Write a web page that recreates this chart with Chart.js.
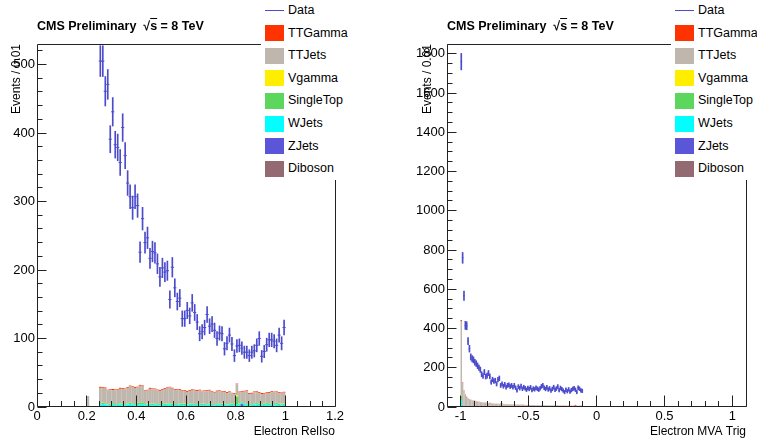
<!DOCTYPE html>
<html>
<head>
<meta charset="utf-8">
<script src="https://cdn.jsdelivr.net/npm/chart.js@4.4.1/dist/chart.umd.min.js"></script>
<style>
  body { margin: 0; background: #fff; }
  #wrap { position: relative; width: 757px; height: 440px; overflow: hidden; font-family: 'Liberation Sans', Arial, Helvetica, sans-serif; color: #000; }
  canvas { position: absolute; top: 0; }
  .title { position: absolute; top: 18px; height: 16px; overflow: hidden; font-weight: bold; font-size: 12.5px; line-height: 16px; white-space: nowrap; }
  .title .ov { text-decoration: overline; }
  .legend { position: absolute; top: 0; height: 180px; background: #fff; }
  .sw { position: absolute; left: 4px; width: 19px; }
  .lt { position: absolute; left: 27px; font-size: 12.5px; line-height: 15px; white-space: nowrap; }
</style>
</head>
<body>
<div id="wrap">
  <canvas id="relIso" width="378" height="440" style="left:0"></canvas>
  <canvas id="mva" width="379" height="440" style="left:378px"></canvas>
  <div class="title" style="left:37px">CMS Preliminary&nbsp;&nbsp;√<span class="ov">s</span> = 8 TeV</div>
  <div class="title" style="left:447px">CMS Preliminary&nbsp;&nbsp;√<span class="ov">s</span> = 8 TeV</div>
  <div class="legend" id="leg1" style="left:261px; width:117px"></div>
  <div class="legend" id="leg2" style="left:671px; width:86px"></div>
</div>
<script>
var binW = 0.01;
var legendNames = ['Data', 'TTGamma', 'TTJets', 'Vgamma', 'SingleTop', 'WJets', 'ZJets', 'Diboson'];

// ---- left pad : Electron RelIso, bins of 0.01 starting at 0.25 ----
var relIsoStart = 0.25;
var relIsoXTicks = [0, 0.2, 0.4, 0.6, 0.8, 1, 1.2];
var relIsoYTicks = [0, 100, 200, 300, 400, 500];
var relIsoData = [505,505,461,471,391,431,383,379,357,408,
                  367,327,307,291,307,294,226,275,240,247,
                  217,227,225,209,190,203,197,199,157,204,
                  174,154,159,129,129,141,133,152,138,124,
                  107,110,116,135,118,121,112,100,108,107,
                  85,93,105,92,75,89,90,86,80,80,
                  75,80,82,90,100,74,81,91,98,98,
                  96,90,105,93,116];
var relIsoTTGamma = [1.5,1.2,1.5,1,1.3,1.5,1.2,1,1.5,1.3, 1.2,1.5,1.3,1,1.5,1.2,1.3,1.5,1,1.2,
                     1.5,1.3,1,1.2,1.5,1.3,1.2,1.5,1,1.3, 1.2,1.5,1.3,1,1.2,1.5,1.3,1,1.2,1.5,
                     1.3,1,1.2,1.5,1.3,1,1.2,1.5,1.3,1, 1.2,1.5,1.3,1,1.2,1,1.3,1.5,1.2,1,
                     1.3,1.5,1.2,1,1.3,1.5,1.2,1,1.3,1.5, 1.2,1,1.3,1.5,1.2];
var relIsoTTJets = [22.5,21.5,21.5,20.5,19.5,19,20,20.5,21,21,
                    21.5,22.5,23.5,24,23.5,22,24,23,19.5,19,
                    21.5,21,20.5,20,19,19,21.5,22.5,23,21.5,
                    20.5,20,19.5,18.5,18.5,18,18,19.5,19.5,19,
                    18.5,18,18,19,18.5,16.5,16.5,18,17.5,17,
                    17,16.5,16,14.5,14.5,16,16,14,17.5,17.5,
                    14.5,15,16,16,15.5,15,14.5,14.5,16,16,
                    17,16.5,15.5,15,16];
var relIsoVgamma = [0.3,0.3,0.3,0.3,0.3,0.3,0.3,0.3,0.3,0.3, 0.3,0.3,0.3,0.3,0.3,0.3,0.3,0.3,0.3,0.3,
                    0.3,0.3,0.3,0.3,0.3,0.3,0.3,0.3,0.3,0.3, 0.3,0.3,0.3,0.3,0.3,0.3,0.3,0.3,0.3,0.3,
                    0.3,0.3,0.3,0.3,0.3,0.3,0.3,0.3,0.3,0.3, 0.3,0.3,0.3,0.3,0.3,2,0.3,0.3,0.3,0.3,
                    0.3,0.3,0.3,0.3,0.3,0.3,0.3,0.3,0.3,0.3, 0.3,0.3,0.3,1,0.3];
var relIsoSingleTop = [1.5,2,1.5,1,1.5,2,1.5,1,1.5,2, 1.5,1,2,1.5,1.5,3,3,2.5,1.5,1,
                       1.5,2,1.5,1,1.5,2,1.5,1,1.5,2, 1.5,1,1.5,2,1.5,1,1.5,2,1.5,1,
                       1.5,2,1.5,1,1.5,2,1.5,1,1.5,2, 1.5,1,1.5,2,1.5,12,1.5,1,1.5,2,
                       1.5,1,1.5,2,1.5,1,1.5,2,1.5,1, 1.5,2,1.5,1,1.5];
var relIsoWJets = [3,2.5,3,2,2.5,3,2,2.5,3,2.5, 2,3,2.5,3,2,2.5,3,2.5,2,3,
                   2.5,2,3,2.5,2,3,2.5,2,3,2.5, 2,2.5,3,2,2.5,2,3,2.5,2,2.5,
                   3,2,2.5,2,3,2.5,2,2.5,3,2, 2.5,2,3,2.5,2,2.5,3,2,2.5,3,
                   2,2.5,2,3,2.5,2,2.5,3,2,2.5, 2,3,2.5,2,2.5];
var relIsoZJets = [0.5,1.5,0.5,0.3,0.5,0.3,0.5,0.3,0.5,0.5, 0.3,0.5,1.5,0.5,0.3,0.5,0.5,1.5,0.3,0.5,
                   0.5,0.3,0.5,0.3,0.5,0.5,0.3,1.2,0.5,0.3, 0.5,0.3,0.5,0.5,0.3,0.5,0.3,0.5,0.5,0.3,
                   0.5,0.3,0.5,0.5,0.3,0.5,0.3,0.5,0.5,0.3, 0.5,0.3,0.5,0.3,0.5,0.5,0.3,4,0.5,0.3,
                   0.5,0.3,1.5,0.5,0.3,0.5,0.3,0.5,0.5,1.5, 0.3,0.5,0.3,0.5,0.5];
var relIsoDiboson = [0.2,0.2,0.2,0.2,0.2,0.2,0.2,0.2,0.2,0.2, 0.2,0.2,0.2,0.2,0.2,0.2,0.2,0.2,0.2,0.2,
                     0.2,0.2,0.2,0.2,0.2,0.2,0.2,0.2,0.2,0.2, 0.2,0.2,0.2,0.2,0.2,0.2,0.2,0.2,0.2,0.2,
                     0.2,0.2,0.2,0.2,0.2,0.2,0.2,0.2,0.2,0.2, 0.2,0.2,0.2,0.2,0.2,0.2,0.2,0.2,0.2,0.2,
                     0.2,0.2,0.2,0.2,0.2,0.2,0.2,0.2,0.2,0.2, 0.2,0.2,0.2,0.2,0.2];
// single TTJets entry sitting alone below the main range
var relIsoStrayX = [0.205];
var relIsoStrayTTJets = [16];

// ---- right pad : Electron MVA Trig, bins of 0.01 starting at -1 ----
var mvaStart = -1;
var mvaXTicks = [-1, -0.5, 0, 0.5, 1];
var mvaYTicks = [0, 200, 400, 600, 800, 1000, 1200, 1400, 1600, 1800];
var mvaData = [1760,760,567,416,414,336,297,255,246,240,
               228,221,210,200,190,167,158,178,155,160,
               173,156,127,140,132,135,118,140,146,110,
               118,106,115,101,110,113,104,110,101,110,
               98,85,104,96,106,93,101,95,88,97,
               92,100,86,94,90,98,93,88,96,105,
               110,98,92,100,89,95,84,92,101,88,
               94,104,86,97,91,84,76,88,80,90,
               78,86,92,95,88,76,98,93,85,82];
var mvaTTGamma = [8,3,2,2,1.5,1.5,1,1,1,1, 1,1,1,1,1,1,1,1,1,1,
                  1,3,1,1,1,1,1,1,1,3, 1,1,1,1,1,1,1,1,1,1,
                  0.5,1,0.5,1,0.5,1,0.5,1,0.5,1, 0.5,1,0.5,1,0.5,1,0.5,1,0.5,1,
                  0.5,1,0.5,1,0.5,1,0.5,1,0.5,1, 0.5,1,0.5,1,0.5,1,0.5,1,0.5,1,
                  0.5,1,0.5,1,5,1,0.5,1,0.5,1];
var mvaTTJets = [378,112,74,56,46,40,35,32,30,28,
                 27,26,24,23,22,21,20,19,18,18,
                 17,16,16,15,15,14,14,14,13,12,
                 13,12,12,11,11,11,11,10,10,10,
                 10,9,10,9,9,9,9,8,9,8,
                 8,8,8,8,8,7,8,7,7,7,
                 7,7,7,7,6,7,6,6,6,6,
                 6,6,6,6,5,6,5,5,5,5,
                 5,5,5,5,5,4,5,4,4,4];
var mvaVgamma = [2,0.5,0.3,0.3,0.2,0.2,0.2,0.2,0.2,0.2, 0.2,0.2,0.2,0.2,0.2,0.2,0.2,0.2,0.2,0.2,
                 0.2,0.2,0.2,0.2,0.2,0.2,0.2,0.2,0.2,0.2, 0.2,0.2,0.2,0.2,0.2,0.2,0.2,0.2,0.2,0.2,
                 0.2,0.2,0.2,0.2,0.2,0.2,0.2,0.2,0.2,0.2, 0.2,0.2,0.2,0.2,0.2,0.2,0.2,0.2,0.2,0.2,
                 0.2,0.2,0.2,0.2,0.2,0.2,0.2,0.2,0.2,0.2, 0.2,0.2,0.2,0.2,0.2,0.2,0.2,0.2,0.2,0.2,
                 0.2,0.2,0.2,0.2,0.2,0.2,0.2,0.2,0.2,0.2];
var mvaSingleTop = [20,4,2.5,2,1.5,1.5,1.2,1,1,1, 1,1,0.8,0.8,0.8,0.8,0.7,0.7,0.7,0.7,
                    0.6,0.6,0.6,0.6,0.6,0.5,0.5,0.5,0.5,0.5, 5,0.5,0.5,0.5,0.4,0.4,0.4,0.4,0.4,0.4,
                    0.4,0.4,0.4,0.4,0.4,0.3,0.3,0.3,0.3,0.3, 0.3,0.3,0.3,0.3,0.3,0.3,0.3,0.3,0.3,0.3,
                    0.3,0.3,0.3,0.3,0.3,0.3,0.3,0.3,0.3,0.3, 0.3,0.3,0.3,0.3,0.3,0.3,0.3,0.3,0.3,0.3,
                    0.3,0.3,0.3,0.3,0.3,0.3,0.3,0.3,0.3,0.3];
var mvaWJets = [30,5,4,3,3,2.5,2.5,2,2,2, 2,2,1.5,1.5,1.5,1.5,1.2,1.2,1.2,1.2,
                1,1,1,1,1,1,1,1,1,1, 0.8,0.8,0.8,0.8,0.8,0.8,0.8,0.8,0.8,0.8,
                0.6,0.6,0.6,0.6,0.6,0.6,0.6,0.6,0.6,0.6, 0.5,0.5,0.5,0.5,0.5,0.5,0.5,0.5,0.5,0.5,
                0.5,0.5,0.5,0.5,0.5,0.5,0.5,0.5,0.5,0.5, 0.5,0.5,0.5,0.5,0.5,0.5,0.5,0.5,0.5,0.5,
                0.5,0.5,0.5,0.5,0.5,0.5,0.5,0.5,0.5,0.5];
var mvaZJets = [5,1,1,0.5,0.5,0.4,0.4,0.3,0.3,0.3, 0.3,0.3,0.2,0.2,0.2,0.2,0.2,0.2,0.2,0.2,
                0.2,0.2,0.2,0.2,0.2,0.2,0.2,0.2,0.2,0.2, 0.2,0.2,0.2,0.2,0.2,0.2,0.2,0.2,0.2,0.2,
                0.2,0.2,0.2,0.2,0.2,0.2,0.2,0.2,0.2,0.2, 0.2,0.2,0.2,0.2,0.2,0.2,0.2,0.2,0.2,0.2,
                0.2,0.2,0.2,0.2,0.2,0.2,0.2,0.2,0.2,0.2, 0.2,0.2,0.2,0.2,0.2,0.2,0.2,0.2,0.2,0.2,
                0.2,0.2,0.2,0.2,0.2,0.2,0.2,0.2,0.2,0.2];
var mvaDiboson = [0.5,0.2,0.1,0.1,0.1,0.1,0.1,0.1,0.1,0.1, 0.1,0.1,0.1,0.1,0.1,0.1,0.1,0.1,0.1,0.1,
                  0.1,0.1,0.1,0.1,0.1,0.1,0.1,0.1,0.1,0.1, 0.1,0.1,0.1,0.1,0.1,0.1,0.1,0.1,0.1,0.1,
                  0.1,0.1,0.1,0.1,0.1,0.1,0.1,0.1,0.1,0.1, 0.1,0.1,0.1,0.1,0.1,0.1,0.1,0.1,0.1,0.1,
                  0.1,0.1,0.1,0.1,0.1,0.1,0.1,0.1,0.1,0.1, 0.1,0.1,0.1,0.1,0.1,0.1,0.1,0.1,0.1,0.1,
                  0.1,0.1,0.1,0.1,0.1,0.1,0.1,0.1,0.1,0.1];

var colors = {
    Data: '#4b4bcc', TTGamma: '#ff3300', TTJets: '#bfb7ae', Vgamma: '#ffee00',
    SingleTop: '#5cd65c', WJets: '#00ffff', ZJets: '#5b55d8', Diboson: '#946a72'
};
// bottom of the stack first
var stackOrder = ['Diboson', 'ZJets', 'WJets', 'SingleTop', 'Vgamma', 'TTJets', 'TTGamma'];

Chart.defaults.font.family = "'Liberation Sans', Arial, Helvetica, sans-serif";
Chart.defaults.color = '#000';

function binCenters(start, n) {
    var out = [];
    for (var i = 0; i < n; i++) out.push(+(start + binW * (i + 0.5)).toFixed(4));
    return out;
}

function fmt(v) {
    return String(Math.round(v * 100) / 100);
}

function isMultiple(v, m) {
    return Math.abs(v / m - Math.round(v / m)) < 1e-6;
}

// ROOT style frame + inward ticks, drawn over the histograms
var rootFrame = {
    id: 'rootFrame',
    afterDatasetsDraw: function (chart, args, o) {
        var ctx = chart.ctx, a = chart.chartArea, x = chart.scales.x, y = chart.scales.y;
        var bottom = a.bottom - 0.5, left = Math.floor(a.left) + 0.5;
        ctx.save();
        ctx.beginPath();
        ctx.rect(a.left - 1, a.top - 1, a.right - a.left + 2, a.bottom - a.top + 2);
        ctx.clip();
        ctx.strokeStyle = '#222';
        ctx.lineWidth = 1;
        ctx.beginPath();
        var n = Math.floor((x.max - x.min) / o.xMinor + 1e-6);
        for (var k = 0; k <= n; k++) {
            var v = x.min + k * o.xMinor;
            var px = Math.floor(x.getPixelForValue(v)) + 0.5;
            ctx.moveTo(px, bottom);
            ctx.lineTo(px, bottom - (isMultiple(v, o.xMajor) ? 11 : 5.5));
        }
        n = Math.floor((y.max - y.min) / o.yMinor + 1e-6);
        for (k = 0; k <= n; k++) {
            v = y.min + k * o.yMinor;
            var py = Math.floor(y.getPixelForValue(v)) + 0.5;
            ctx.moveTo(left, py);
            ctx.lineTo(left + (isMultiple(v, o.yMajor) ? 9 : 5), py);
        }
        ctx.moveTo(left, Math.floor(a.top) + 0.5);
        ctx.lineTo(Math.floor(a.right) + 0.5, Math.floor(a.top) + 0.5);
        ctx.lineTo(Math.floor(a.right) + 0.5, bottom);
        ctx.lineTo(left, bottom);
        ctx.lineTo(left, Math.floor(a.top) + 0.5);
        ctx.stroke();
        ctx.restore();
    }
};

function drawHist(canvasId, p) {
    var xs = binCenters(p.start, p.data.length);
    var ds = [];
    ds.push({
        type: 'scatter', label: 'Data', yAxisID: 'yd',
        data: xs.map(function (x, i) { return {x: x, y: p.data[i]}; }),
        pointStyle: 'line', pointRadius: p.mark, borderColor: colors.Data, borderWidth: 1, showLine: false
    });
    ds.push({
        type: 'bar', label: 'Data errors', yAxisID: 'yd', grouped: false,
        data: xs.map(function (x, i) {
            var e = Math.sqrt(p.data[i]);
            return {x: x, y: [p.data[i] - e, p.data[i] + e]};
        }),
        backgroundColor: colors.Data, barThickness: 1
    });
    stackOrder.forEach(function (name) {
        var vals = p.mc[name];
        var pts = xs.map(function (x, i) { return {x: x, y: vals[i]}; });
        if (p.extra && p.extra[name]) pts = p.extra[name].concat(pts);
        ds.push({
            type: 'bar', label: name, data: pts, yAxisID: 'y', stack: 'mc', grouped: false,
            backgroundColor: colors[name], borderWidth: 0, barPercentage: 1.06, categoryPercentage: 1
        });
    });

    new Chart(document.getElementById(canvasId), {
        type: 'bar',
        data: {datasets: ds},
        options: {
            responsive: false,
            animation: false,
            events: [],
            layout: {padding: {top: 44, right: p.padRight, left: 0, bottom: 0}},
            plugins: {
                legend: {display: false},
                tooltip: {enabled: false},
                rootFrame: {xMinor: p.xMinor, xMajor: p.xMajor, yMinor: p.yMinor, yMajor: p.yMajor}
            },
            scales: {
                x: {
                    type: 'linear', min: p.xMin, max: p.xMax, offset: false,
                    grid: {display: false, drawTicks: false, offset: false}, border: {display: false},
                    afterBuildTicks: function (s) { s.ticks = p.xTicks.map(function (v) { return {value: v}; }); },
                    afterFit: function (s) { s.height = 33; },
                    ticks: {autoSkip: false, maxRotation: 0, padding: 2, font: {size: 13}, callback: fmt},
                    title: {display: true, text: p.xTitle, align: 'end', font: {size: 12}, padding: {top: 0, bottom: 1}}
                },
                y: {
                    type: 'linear', stacked: true, min: 0, max: p.yMax,
                    grid: {display: false, drawTicks: false}, border: {display: false},
                    afterBuildTicks: function (s) { s.ticks = p.yTicks.map(function (v) { return {value: v}; }); },
                    afterFit: function (s) { s.width = p.yWidth; },
                    ticks: {padding: 2, font: {size: 13}, callback: fmt},
                    title: {display: true, text: 'Events / 0.01', align: 'end', font: {size: 12}, padding: {top: p.yTitlePad, bottom: 0}}
                },
                yd: {type: 'linear', display: false, min: 0, max: p.yMax}
            }
        },
        plugins: [rootFrame]
    });
}

drawHist('relIso', {
    start: relIsoStart, data: relIsoData,
    mc: {TTGamma: relIsoTTGamma, TTJets: relIsoTTJets, Vgamma: relIsoVgamma, SingleTop: relIsoSingleTop,
         WJets: relIsoWJets, ZJets: relIsoZJets, Diboson: relIsoDiboson},
    extra: {TTJets: relIsoStrayX.map(function (x, i) { return {x: x, y: relIsoStrayTTJets[i]}; })},
    xMin: 0, xMax: 1.2, xTicks: relIsoXTicks, xMinor: 0.05, xMajor: 0.2,
    yMax: 530, yTicks: relIsoYTicks, yMinor: 20, yMajor: 100,
    xTitle: 'Electron RelIso', padRight: 43, yWidth: 37, yTitlePad: 9.5, mark: 1.6
});

drawHist('mva', {
    start: mvaStart, data: mvaData,
    mc: {TTGamma: mvaTTGamma, TTJets: mvaTTJets, Vgamma: mvaVgamma, SingleTop: mvaSingleTop,
         WJets: mvaWJets, ZJets: mvaZJets, Diboson: mvaDiboson},
    xMin: -1.1, xMax: 1.1, xTicks: mvaXTicks, xMinor: 0.1, xMajor: 0.5,
    yMax: 1850, yTicks: mvaYTicks, yMinor: 50, yMajor: 200,
    xTitle: 'Electron MVA Trig', padRight: 11, yWidth: 69, yTitlePad: 42, mark: 0.8
});

// legend boxes (same entries on both pads)
function buildLegend(boxId) {
    var box = document.getElementById(boxId);
    for (var k = 0; k < legendNames.length; k++) {
        var name = legendNames[k];
        var cy = 10.5 + 22.6 * k;
        var sw = document.createElement('div');
        sw.className = 'sw';
        if (name == 'Data') {
            sw.style.top = (cy - 0.5) + 'px';
            sw.style.height = '1px';
        } else {
            sw.style.top = (cy - 8) + 'px';
            sw.style.height = '16px';
        }
        sw.style.background = colors[name];
        box.appendChild(sw);
        var lt = document.createElement('div');
        lt.className = 'lt';
        lt.style.top = (cy - 7.5) + 'px';
        lt.innerHTML = name;
        box.appendChild(lt);
    }
}
buildLegend('leg1');
buildLegend('leg2');
</script>
</body>
</html>
